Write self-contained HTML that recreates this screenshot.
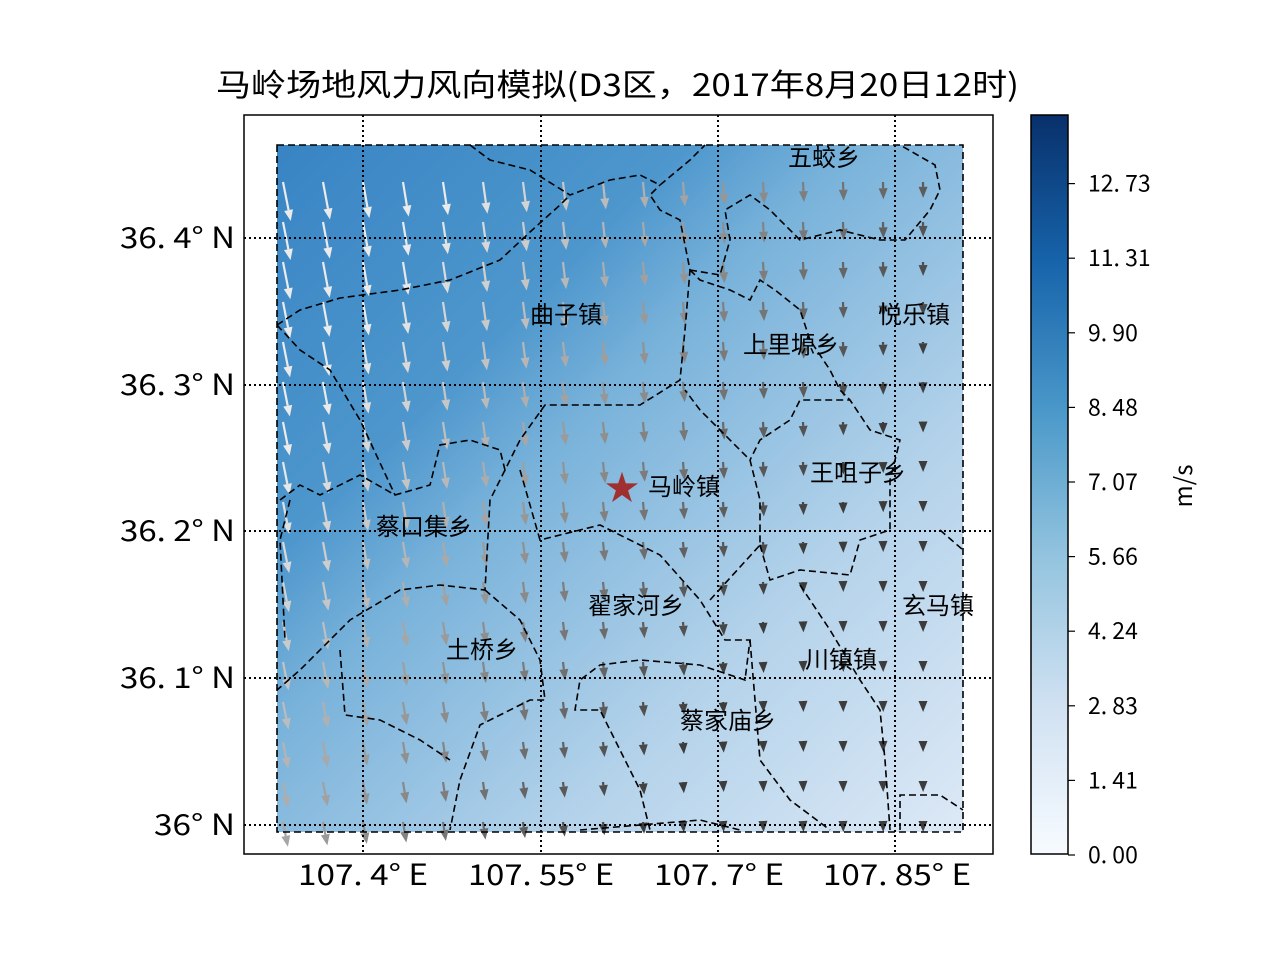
<!DOCTYPE html>
<html><head><meta charset="utf-8">
<style>
body{margin:0;background:#fff;}
svg text{font-family:"WenQuanYi Zen Hei","Noto Sans CJK SC",sans-serif;}
</style></head><body>
<svg id="s" width="1280" height="960" xmlns="http://www.w3.org/2000/svg">
<defs>
<linearGradient id="bg" x1="0" y1="0" x2="1" y2="1">
<stop offset="0" stop-color="#3884c4"/>
<stop offset="0.3" stop-color="#4e97cd"/>
<stop offset="0.42" stop-color="#78b2da"/>
<stop offset="0.7" stop-color="#b3d2ea"/>
<stop offset="1" stop-color="#dde9f6"/>
</linearGradient>
<linearGradient id="cb" x1="0" y1="1" x2="0" y2="0">
<stop offset="0" stop-color="#f7fbff"/>
<stop offset="0.2" stop-color="#d0e1f2"/>
<stop offset="0.4" stop-color="#94c4df"/>
<stop offset="0.6" stop-color="#4a98c9"/>
<stop offset="0.8" stop-color="#1764ab"/>
<stop offset="1" stop-color="#08306b"/>
</linearGradient>
</defs>
<text x="216" y="96" font-size="31" textLength="803" lengthAdjust="spacingAndGlyphs">马岭场地风力风向模拟(D3区，2017年8月20日12时)</text>
<rect x="244" y="115" width="749" height="739" fill="#fff" stroke="#000" stroke-width="1.5"/>
<rect x="277" y="145" width="686" height="687" fill="url(#bg)"/>
<g id="arrows"></g>
<g fill="none" stroke="#000" stroke-width="1.6" stroke-dasharray="7,4">
<rect x="277" y="145" width="686" height="687"/>
<polyline points="470,145 490,160 530,170 570,195 610,180 640,175 660,185 690,160 705,145"/>
<polyline points="277,325 300,310 340,298 400,290 450,280 500,260 530,232 560,205 570,195"/>
<polyline points="277,325 300,350 330,370 360,420 395,495"/>
<polyline points="280,500 300,485 320,495 360,475 395,495 430,485 440,445 470,440 500,450 505,470 520,440 545,405 600,405 640,405 680,380 685,330 690,270 680,220 660,210 650,195 660,185"/>
<polyline points="505,470 490,500 485,590 440,585 400,590 350,620 300,670 277,690"/>
<polyline points="485,590 520,620 540,660 545,700 530,700 480,725 460,780 450,830"/>
<polyline points="340,650 345,715 380,720 420,740 450,760"/>
<polyline points="520,470 540,540 600,525 660,555 700,600 725,640 750,640 745,680 700,665 640,660 600,665 580,680 575,710 600,710 615,740 640,790 650,830"/>
<polyline points="710,600 760,545 760,500 750,460 720,430 700,410 685,390"/>
<polyline points="760,545 770,580 800,570 850,575 860,540 890,530 890,480 900,440 870,430 850,400 800,400 790,420 760,440 750,460"/>
<polyline points="690,270 720,275 730,240 725,210 750,195 770,210 800,240 840,230 880,240 905,240 930,210 940,190 935,165 900,145"/>
<polyline points="690,270 700,280 730,290 750,300 760,280 775,290 800,310 810,340 830,370 840,390 850,400"/>
<polyline points="800,585 830,630 860,680 880,710 885,760 890,830"/>
<polyline points="750,640 760,760 790,800 830,830"/>
<polyline points="900,830 900,795 940,795 963,810"/>
<polyline points="940,530 963,550"/>
<polyline points="580,830 700,820 740,830"/>
<polyline points="290,500 280,540 285,640"/>
</g>
<g stroke="#000" stroke-width="2" stroke-dasharray="2,3">
<line x1="363" y1="115" x2="363" y2="854"/><line x1="541" y1="115" x2="541" y2="854"/>
<line x1="718" y1="115" x2="718" y2="854"/><line x1="895" y1="115" x2="895" y2="854"/>
<line x1="244" y1="238" x2="993" y2="238"/><line x1="244" y1="385" x2="993" y2="385"/>
<line x1="244" y1="531" x2="993" y2="531"/><line x1="244" y1="678" x2="993" y2="678"/>
<line x1="244" y1="825" x2="993" y2="825"/>
</g>
<text x="622" y="500" font-size="34" fill="#a03030" text-anchor="middle">★</text>
<g font-size="24" fill="#000">
<text x="788" y="166">五蛟乡</text>
<text x="530" y="323">曲子镇</text>
<text x="878" y="323">悦乐镇</text>
<text x="743" y="353">上里塬乡</text>
<text x="648" y="495">马岭镇</text>
<text x="810" y="481">王咀子乡</text>
<text x="376" y="535">蔡口集乡</text>
<text x="588" y="614">翟家河乡</text>
<text x="902" y="614">玄马镇</text>
<text x="446" y="658">土桥乡</text>
<text x="805" y="668">川镇镇</text>
<text x="680" y="729">蔡家庙乡</text>
</g>
<g font-size="29" fill="#000">
<text x="120" y="248" textLength="115" lengthAdjust="spacingAndGlyphs">36. 4° N</text>
<text x="120" y="395" textLength="115" lengthAdjust="spacingAndGlyphs">36. 3° N</text>
<text x="120" y="541" textLength="115" lengthAdjust="spacingAndGlyphs">36. 2° N</text>
<text x="120" y="688" textLength="115" lengthAdjust="spacingAndGlyphs">36. 1° N</text>
<text x="154" y="835" textLength="81" lengthAdjust="spacingAndGlyphs">36° N</text>
</g>
<g font-size="29" fill="#000">
<text x="298" y="885" textLength="130" lengthAdjust="spacingAndGlyphs">107. 4° E</text>
<text x="468" y="885" textLength="146" lengthAdjust="spacingAndGlyphs">107. 55° E</text>
<text x="654" y="885" textLength="130" lengthAdjust="spacingAndGlyphs">107. 7° E</text>
<text x="823" y="885" textLength="148" lengthAdjust="spacingAndGlyphs">107. 85° E</text>
</g>
<rect x="1031" y="115" width="37" height="739" fill="url(#cb)" stroke="#000" stroke-width="1.5"/>
<g id="cbt" font-size="23" fill="#000"></g>
<text x="1192" y="486" font-size="24" transform="rotate(-90 1192 486)" text-anchor="middle">m/s</text>
</svg>
<script>
var g=document.getElementById('arrows'),h='';
for(var i=0;i<17;i++)for(var j=0;j<17;j++){
 var x=283+40*i,y=182+40*j;
 var fx=(x-277)/686,fy=(y-145)/687;
 var s=1-0.62*fx-0.38*fy; if(s<0.25)s=0.25;
 var L=40*s, dx=8*s*(1-fx);
 var c=Math.round(Math.min(235,Math.max(60,(s-0.3)*330+60)));
 var col='rgb('+c+','+c+','+c+')';
 var ex=x+dx,ey=y+L;
 var ang=Math.atan2(L,dx),hl=11,hw=4.5;
 var bx=ex-hl*Math.cos(ang),by=ey-hl*Math.sin(ang);
 var px=-Math.sin(ang)*hw,py=Math.cos(ang)*hw;
 h+='<line x1="'+x+'" y1="'+y+'" x2="'+bx+'" y2="'+by+'" stroke="'+col+'" stroke-width="2.2"/>';
 h+='<polygon points="'+ex+','+ey+' '+(bx+px)+','+(by+py)+' '+(bx-px)+','+(by-py)+'" fill="'+col+'"/>';
}
g.innerHTML=h;
var t=['0. 00','1. 41','2. 83','4. 24','5. 66','7. 07','8. 48','9. 90','11. 31','12. 73'],o='';
for(var k=0;k<10;k++){var yy=855-k*74.6;
o+='<line x1="1068" y1="'+yy+'" x2="1075" y2="'+yy+'" stroke="#000" stroke-width="1.2"/><text x="1088" y="'+(yy+8)+'">'+t[k]+'</text>';}
document.getElementById('cbt').innerHTML=o;
</script>
</body></html>
